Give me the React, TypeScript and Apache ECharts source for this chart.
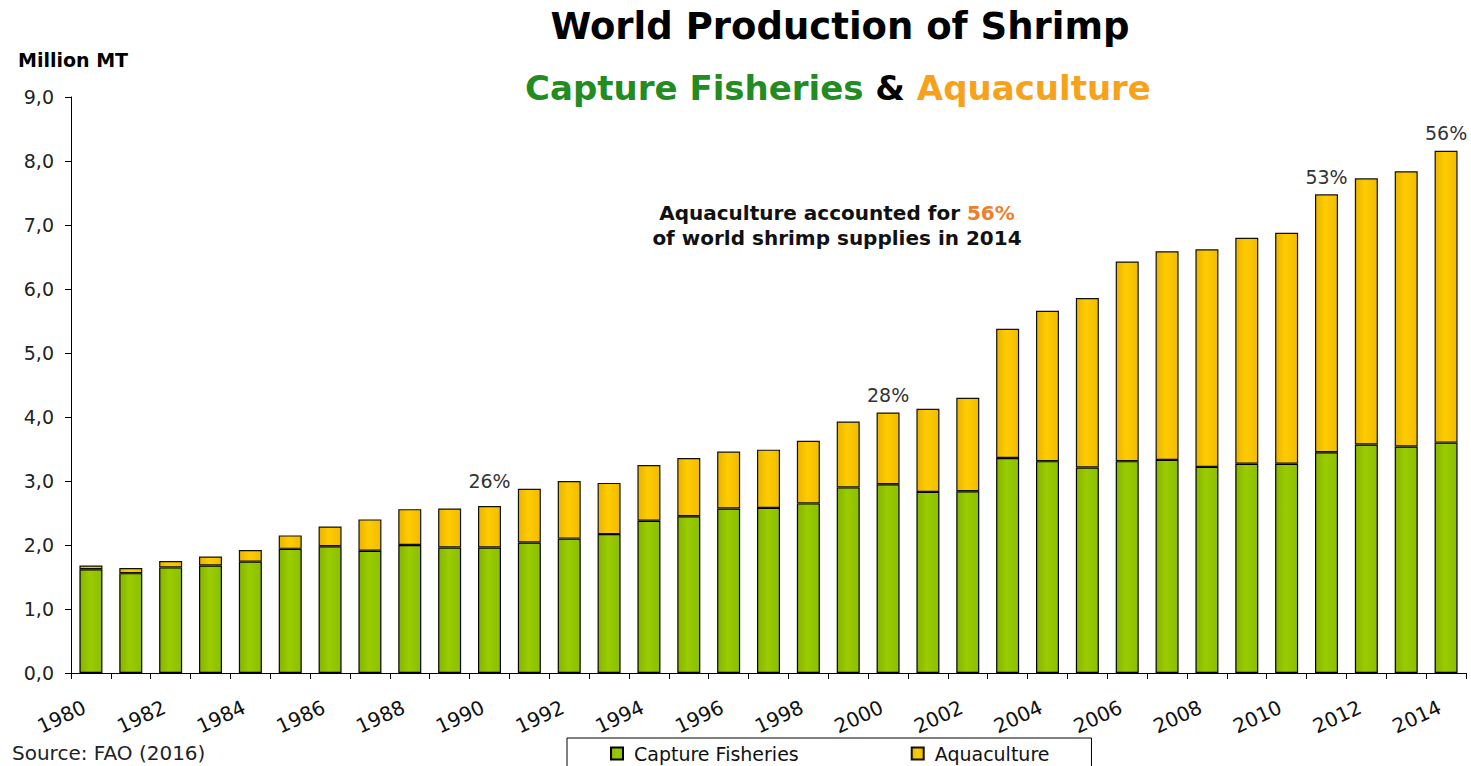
import React, { useEffect, useRef } from 'react';
import * as echarts from 'echarts';

const years = [
  '1980', '1981', '1982', '1983', '1984', '1985', '1986', '1987', '1988', '1989',
  '1990', '1991', '1992', '1993', '1994', '1995', '1996', '1997', '1998', '1999',
  '2000', '2001', '2002', '2003', '2004', '2005', '2006', '2007', '2008', '2009',
  '2010', '2011', '2012', '2013', '2014',
];

const captureFisheries = [
  1.62, 1.56, 1.65, 1.68, 1.74, 1.94, 1.98, 1.91, 2.0, 1.96,
  1.96, 2.04, 2.1, 2.17, 2.38, 2.45, 2.57, 2.58, 2.65, 2.9,
  2.95, 2.83, 2.84, 3.36, 3.31, 3.21, 3.31, 3.33, 3.22, 3.27,
  3.27, 3.45, 3.57, 3.54, 3.6,
];

const aquaculture = [
  0.06, 0.08, 0.1, 0.14, 0.18, 0.21, 0.31, 0.49, 0.56, 0.61,
  0.65, 0.84, 0.9, 0.8, 0.87, 0.91, 0.89, 0.91, 0.98, 1.03,
  1.12, 1.3, 1.46, 2.02, 2.35, 2.65, 3.12, 3.26, 3.4, 3.53,
  3.61, 4.03, 4.16, 4.3, 4.56,
];

const shareYears = ['1990', '2000', '2011', '2014'];
const shareTexts = ['26%', '28%', '53%', '56%'];

const FONT = '"DejaVu Sans", "Liberation Sans", sans-serif';

export default function App() {
  const ref = useRef<HTMLDivElement>(null);

  useEffect(() => {
    if (!ref.current) return;
    const chart = echarts.init(ref.current, null, { renderer: 'svg' });

    const greenGrad = new echarts.graphic.LinearGradient(0, 0, 1, 0, [
      { offset: 0, color: '#86b400' },
      { offset: 0.45, color: '#9acc00' },
      { offset: 1, color: '#8cbf00' },
    ]);
    const yellowGrad = new echarts.graphic.LinearGradient(0, 0, 1, 0, [
      { offset: 0, color: '#e9b400' },
      { offset: 0.45, color: '#ffcc00' },
      { offset: 1, color: '#f0bc00' },
    ]);

    const aquaData = aquaculture.map((v, i) => {
      const k = shareYears.indexOf(years[i]);
      if (k < 0) return v;
      return {
        value: v,
        label: {
          show: true,
          position: 'top',
          distance: shareYears[k] === '1990' ? 15 : 8,
          formatter: shareTexts[k],
          fontSize: 19,
          color: '#333',
          fontFamily: FONT,
        },
      };
    });

    chart.setOption({
      animation: false,
      backgroundColor: '#ffffff',
      textStyle: { fontFamily: FONT },
      grid: { left: 71, right: 5, top: 97, bottom: 93 },
      legend: {
        left: 567,
        top: 738,
        orient: 'horizontal',
        borderColor: '#000',
        borderWidth: 1,
        padding: [6, 42, 10, 43],
        itemGap: 112,
        itemWidth: 12,
        itemHeight: 12,
        icon: 'rect',
        textStyle: {
          fontSize: 19,
          lineHeight: 19,
          color: '#111',
          fontFamily: FONT,
          padding: [0, 0, 0, 6],
        },
        data: ['Capture Fisheries', 'Aquaculture'],
      },
      xAxis: {
        type: 'category',
        data: years,
        axisLine: { lineStyle: { color: '#000', width: 1 } },
        axisTick: { show: true, interval: 0, length: 6, lineStyle: { color: '#000' } },
        axisLabel: {
          interval: 1,
          rotate: 25,
          margin: 30,
          padding: [0, 7, 0, 0],
          fontSize: 20,
          color: '#111',
          fontFamily: FONT,
        },
      },
      yAxis: {
        type: 'value',
        min: 0,
        max: 9,
        interval: 1,
        axisLine: { show: true, lineStyle: { color: '#000', width: 1 } },
        axisTick: { show: true, length: 6, lineStyle: { color: '#000' } },
        splitLine: { show: false },
        axisLabel: {
          formatter: (v: number) => v.toFixed(1).replace('.', ','),
          fontSize: 19,
          color: '#222',
          margin: 17,
          fontFamily: FONT,
        },
      },
      series: [
        {
          name: 'Capture Fisheries',
          type: 'bar',
          stack: 'total',
          barWidth: 23,
          data: captureFisheries,
          itemStyle: { color: greenGrad, borderColor: '#000', borderWidth: 1.2 },
        },
        {
          name: 'Aquaculture',
          type: 'bar',
          stack: 'total',
          barWidth: 23,
          data: aquaData,
          itemStyle: { color: yellowGrad, borderColor: '#111', borderWidth: 1.2 },
        },
      ],
      graphic: [
        {
          type: 'text',
          x: 840,
          y: 26,
          style: {
            text: 'World Production of Shrimp',
            fontSize: 37,
            fontWeight: 'bold',
            fontFamily: FONT,
            fill: '#000',
            align: 'center',
            verticalAlign: 'middle',
          },
        },
        {
          type: 'text',
          x: 838,
          y: 88,
          style: {
            text: '{g|Capture Fisheries} {k|&} {o|Aquaculture}',
            fontSize: 34,
            fontWeight: 'bold',
            fontFamily: FONT,
            fill: '#000',
            align: 'center',
            verticalAlign: 'middle',
            rich: {
              g: { fill: '#228b22', fontSize: 34, fontWeight: 'bold', fontFamily: FONT },
              k: { fill: '#000', fontSize: 34, fontWeight: 'bold', fontFamily: FONT },
              o: { fill: '#f7a21b', fontSize: 34, fontWeight: 'bold', fontFamily: FONT },
            },
          },
        },
        {
          type: 'text',
          x: 837,
          y: 213,
          style: {
            text: '{b|Aquaculture accounted for }{o|56%}',
            fontSize: 20,
            fontWeight: 'bold',
            fontFamily: FONT,
            fill: '#111',
            align: 'center',
            verticalAlign: 'middle',
            rich: {
              b: { fill: '#111', fontSize: 20, fontWeight: 'bold', fontFamily: FONT },
              o: { fill: '#ee7f2d', fontSize: 20, fontWeight: 'bold', fontFamily: FONT },
            },
          },
        },
        {
          type: 'text',
          x: 837,
          y: 238,
          style: {
            text: 'of world shrimp supplies in 2014',
            fontSize: 20,
            fontWeight: 'bold',
            fontFamily: FONT,
            fill: '#111',
            align: 'center',
            verticalAlign: 'middle',
          },
        },
        {
          type: 'text',
          x: 18,
          y: 60,
          style: {
            text: 'Million MT',
            fontSize: 19,
            fontWeight: 'bold',
            fontFamily: FONT,
            fill: '#000',
            align: 'left',
            verticalAlign: 'middle',
          },
        },
        {
          type: 'text',
          x: 12,
          y: 753,
          style: {
            text: 'Source: FAO (2016)',
            fontSize: 20,
            fontFamily: FONT,
            fill: '#222',
            align: 'left',
            verticalAlign: 'middle',
          },
        },
      ],
    });

    return () => {
      chart.dispose();
    };
  }, []);

  return (
    <div
      ref={ref}
      style={{ position: 'fixed', left: 0, top: 0, width: 1471, height: 766, background: '#fff' }}
    />
  );
}
